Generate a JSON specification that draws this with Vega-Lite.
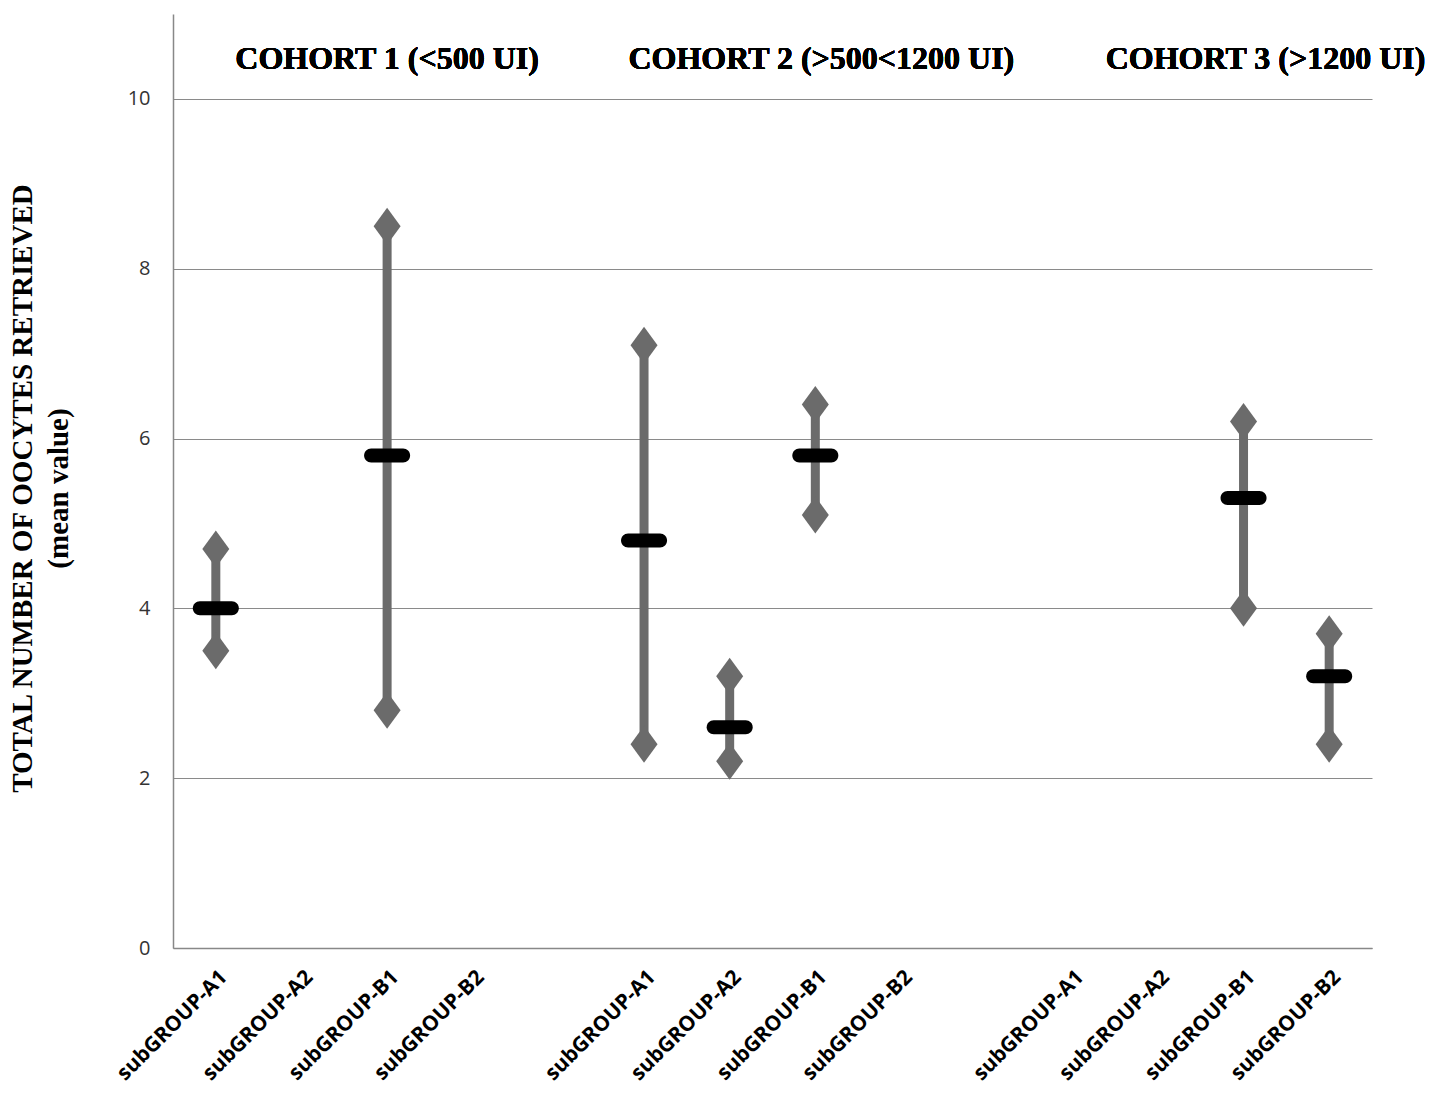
{
  "$schema": "https://vega.github.io/schema/vega-lite/v6.json",
  "autosize": "none",
  "width": 1199,
  "height": 934,
  "padding": {"left": 173, "top": 14, "right": 69, "bottom": 147},
  "background": "white",
  "config": {
    "view": {"stroke": null},
    "axis": {"domainColor": "#888888", "domainWidth": 1.5, "ticks": false, "gridColor": "#8a8a8a", "gridWidth": 1}
  },
  "data": {
    "values": [
      {"cohort": "COHORT 1", "sub": "1A1", "mean": 4.0, "low": 3.5, "high": 4.7},
      {"cohort": "COHORT 1", "sub": "1B1", "mean": 5.8, "low": 2.8, "high": 8.5},
      {"cohort": "COHORT 2", "sub": "2A1", "mean": 4.8, "low": 2.4, "high": 7.1},
      {"cohort": "COHORT 2", "sub": "2A2", "mean": 2.6, "low": 2.2, "high": 3.2},
      {"cohort": "COHORT 2", "sub": "2B1", "mean": 5.8, "low": 5.1, "high": 6.4},
      {"cohort": "COHORT 3", "sub": "3B1", "mean": 5.3, "low": 4.0, "high": 6.2},
      {"cohort": "COHORT 3", "sub": "3B2", "mean": 3.2, "low": 2.4, "high": 3.7}
    ]
  },
  "encoding": {
    "x": {
      "field": "sub",
      "type": "nominal",
      "scale": {"type": "point", "padding": 0.5, "domain": ["1A1", "1A2", "1B1", "1B2", "g1", "2A1", "2A2", "2B1", "2B2", "g2", "3A1", "3A2", "3B1", "3B2"]},
      "axis": {
        "title": null,
        "labelAngle": -45,
        "labelExpr": "indexof(datum.value, 'g') == 0 ? '' : 'subGROUP-' + slice(datum.value, 1)",
        "labelFont": "Open Sans",
        "labelFontWeight": "bold",
        "labelFontSize": 21,
        "labelColor": "#000000",
        "labelPadding": 18,
        "grid": false
      }
    }
  },
  "layer": [
    {
      "mark": {"type": "rule", "strokeWidth": 9, "color": "#6b6b6b"},
      "encoding": {
        "y": {
          "field": "low",
          "type": "quantitative",
          "scale": {"domain": [0, 11], "nice": false},
          "axis": {
            "values": [0, 2, 4, 6, 8, 10],
            "format": "d",
            "grid": true,
            "labelFont": "Open Sans",
            "labelFontSize": 20,
            "labelColor": "#333333",
            "labelPadding": 23,
            "title": ["TOTAL NUMBER OF OOCYTES RETRIEVED", "(mean value)"],
            "titleFont": "Liberation Serif",
            "titleFontWeight": "bold",
            "titleFontSize": 29,
            "titleColor": "#000000",
            "titleLineHeight": 36,
            "titleAngle": -90,
            "titleX": -151,
            "titleY": 474,
            "titleAlign": "center",
            "titleBaseline": "middle"
          }
        },
        "y2": {"field": "high"}
      }
    },
    {
      "mark": {"type": "point", "shape": "M0,-1L0.73,0L0,1L-0.73,0Z", "size": 1369, "filled": true, "color": "#6b6b6b", "opacity": 1},
      "encoding": {"y": {"field": "low", "type": "quantitative"}}
    },
    {
      "mark": {"type": "point", "shape": "M0,-1L0.73,0L0,1L-0.73,0Z", "size": 1369, "filled": true, "color": "#6b6b6b", "opacity": 1},
      "encoding": {"y": {"field": "high", "type": "quantitative"}}
    },
    {
      "mark": {"type": "tick", "orient": "horizontal", "size": 46, "thickness": 14, "cornerRadius": 7, "color": "#000000", "opacity": 1},
      "encoding": {"y": {"field": "mean", "type": "quantitative"}}
    },
    {
      "mark": {"type": "text", "font": "Liberation Serif", "fontWeight": "bold", "fontSize": 32, "color": "#000000", "align": "center", "baseline": "middle"},
      "encoding": {"x": {"datum": "1B1"}, "y": {"datum": 10.47}, "text": {"value": "COHORT 1 (<500 UI)"}}
    },
    {
      "mark": {"type": "text", "font": "Liberation Serif", "fontWeight": "bold", "fontSize": 32, "color": "#000000", "align": "center", "baseline": "middle", "dx": 6},
      "encoding": {"x": {"datum": "2B1"}, "y": {"datum": 10.47}, "text": {"value": "COHORT 2 (>500<1200 UI)"}}
    },
    {
      "mark": {"type": "text", "font": "Liberation Serif", "fontWeight": "bold", "fontSize": 32, "color": "#000000", "align": "center", "baseline": "middle", "dx": 22},
      "encoding": {"x": {"datum": "3B1"}, "y": {"datum": 10.47}, "text": {"value": "COHORT 3 (>1200 UI)"}}
    }
  ]
}
